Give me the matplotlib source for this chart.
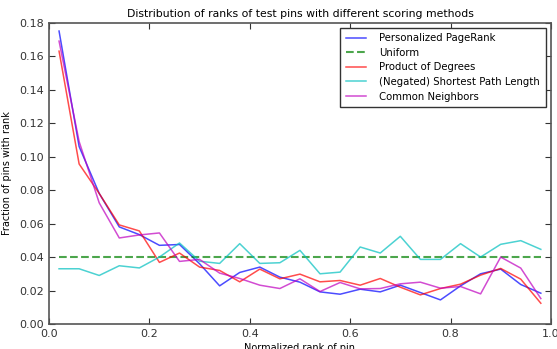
import numpy as np
import matplotlib.pyplot as plt

# normalized rank bins (centres)
rank = np.arange(0.02, 1.0, 0.04)

pagerank = [0.175, 0.106, 0.078, 0.058, 0.0534, 0.047, 0.0475, 0.036, 0.0228, 0.0308,
            0.034, 0.028, 0.025, 0.0192, 0.0178, 0.0208, 0.0192, 0.0232, 0.0188, 0.0144,
            0.0228, 0.030, 0.0328, 0.0236, 0.0184]
uniform = [0.04] * len(rank)
prod_degrees = [0.163, 0.0956, 0.078, 0.0592, 0.0556, 0.0368, 0.0424, 0.034, 0.032, 0.0252,
                0.0328, 0.027, 0.0298, 0.0252, 0.026, 0.0232, 0.0272, 0.022, 0.0174, 0.0212,
                0.0238, 0.0292, 0.0332, 0.0268, 0.0124]
shortest_path = [0.033, 0.033, 0.029, 0.0348, 0.0335, 0.040, 0.0484, 0.0375, 0.0362, 0.048,
                 0.0362, 0.0366, 0.044, 0.030, 0.031, 0.046, 0.0424, 0.0524, 0.0386, 0.0386,
                 0.048, 0.040, 0.0476, 0.0498, 0.0446]
common_nbrs = [0.169, 0.109, 0.0724, 0.0514, 0.0532, 0.0544, 0.0374, 0.0386, 0.0304, 0.0272,
               0.0232, 0.0212, 0.027, 0.0194, 0.0248, 0.021, 0.0212, 0.024, 0.025, 0.0214,
               0.0224, 0.018, 0.040, 0.0334, 0.0152]

plt.rcParams.update({
    "font.family": "DejaVu Sans",
    "font.size": 8,
    "xtick.direction": "in",
    "ytick.direction": "in",
    "xtick.top": True,
    "ytick.right": True,
})

fig = plt.figure(figsize=(5.57, 3.49), dpi=100)
ax = fig.add_axes([0.088, 0.0716, 0.901, 0.8634])

ax.plot(rank, pagerank, color="b", alpha=0.7, lw=1.1, label="Personalized PageRank")
ax.plot(rank, uniform, color="g", alpha=0.7, lw=1.5, ls="--", label="Uniform")
ax.plot(rank, prod_degrees, color="r", alpha=0.7, lw=1.1, label="Product of Degrees")
ax.plot(rank, shortest_path, color="c", alpha=0.7, lw=1.1, label="(Negated) Shortest Path Length")
ax.plot(rank, common_nbrs, color="m", alpha=0.7, lw=1.1, label="Common Neighbors")

ax.set_xlim(0, 1.0)
ax.set_ylim(0, 0.18)
ax.set_xticks(np.arange(0, 1.01, 0.2))
ax.set_yticks(np.arange(0, 0.181, 0.02))
ax.tick_params(length=4, width=0.8, colors="#333333", labelsize=8)
for s in ax.spines.values():
    s.set_color("#555555")
    s.set_linewidth(1.2)

ax.set_title("Distribution of ranks of test pins with different scoring methods", fontsize=7.8, pad=4)
ax.set_xlabel("Normalized rank of pin", fontsize=7, labelpad=3)
ax.set_ylabel("Fraction of pins with rank", fontsize=7, labelpad=5)

leg = ax.legend(loc="upper right", fontsize=7.3, fancybox=False, framealpha=1,
                edgecolor="#333333", handlelength=2.0, handletextpad=1.3,
                borderaxespad=0.5, borderpad=0.55, labelspacing=0.45)
leg.get_frame().set_linewidth(1.0)

fig.savefig("out.png", dpi=100)
